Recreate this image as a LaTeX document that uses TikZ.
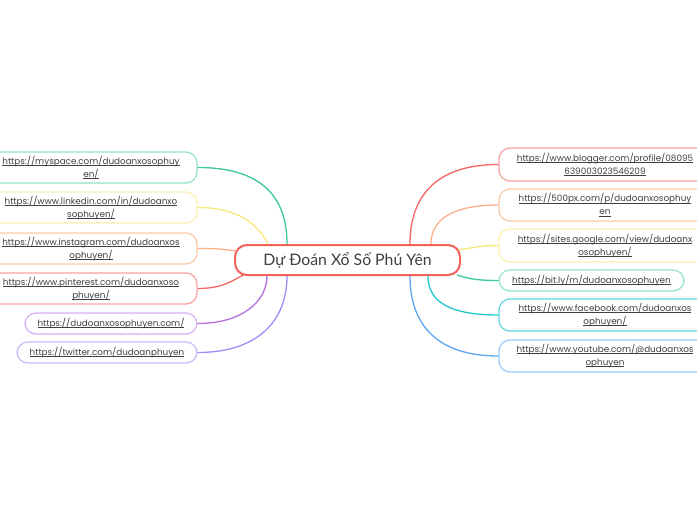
\documentclass[tikz,border=0pt]{standalone}
\usepackage{fontspec}
\setmainfont{Poppins}
\newfontfamily\vnfont{Lato}
\usetikzlibrary{calc}
\definecolor{txt}{HTML}{404040}
\definecolor{lgreen}{HTML}{3CC99A}\definecolor{bgreen}{HTML}{93E3C6}
\definecolor{lyellow}{HTML}{F8E87C}\definecolor{byellow}{HTML}{FBF0AE}
\definecolor{lorange}{HTML}{FDB089}\definecolor{borange}{HTML}{FDCAA8}
\definecolor{lred}{HTML}{F46464}\definecolor{bred}{HTML}{F7A0A0}
\definecolor{lpurple}{HTML}{B46FE0}\definecolor{bpurple}{HTML}{D8B0F1}
\definecolor{lviolet}{HTML}{9A90F8}\definecolor{bviolet}{HTML}{C2BCFA}
\definecolor{lcyan}{HTML}{1FC8D0}\definecolor{bcyan}{HTML}{5CD8DD}
\definecolor{lblue}{HTML}{5AA8F5}\definecolor{bblue}{HTML}{9CCDF8}
\definecolor{cred}{HTML}{F2605A}
\newcommand\lnk[1]{\setbox0\hbox{#1}\leavevmode\rlap{\rule[-1.4pt]{\wd0}{0.5pt}}\box0}
\tikzset{
  leaf/.style={rectangle, rounded corners=11pt, line width=1.2pt, fill=white,
    text=txt, font=\fontsize{8.8}{13}\selectfont, align=center, inner sep=0pt},
  conn/.style={line width=1.3pt},
}
\begin{document}
\begin{tikzpicture}[x=1pt,y=-1pt]
\useasboundingbox (0,0) rectangle (697,520);
\fill[white] (0,0) rectangle (697,520);
% central
\node[draw=cred, line width=2pt, rounded corners=12pt, fill=white, minimum width=225pt, minimum height=30pt, inner sep=0pt, text=txt, font=\vnfont\fontsize{15.8}{18}\selectfont] (c) at (347.5,260) {Dự Đoán Xổ Số Phú Yên};
% left
\node[leaf, draw=bgreen, minimum width=212pt, minimum height=31pt] (l1) at (91,167.5) {\lnk{https://myspace.com/dudoanxosophuy}\\\lnk{en/}};
\node[leaf, draw=byellow, minimum width=212pt, minimum height=31pt] (l2) at (91,207.5) {\lnk{https://www.linkedin.com/in/dudoanxo}\\\lnk{sophuyen/}};
\node[leaf, draw=borange, minimum width=212pt, minimum height=31pt] (l3) at (91,248.5) {\lnk{https://www.instagram.com/dudoanxos}\\\lnk{ophuyen/}};
\node[leaf, draw=bred, minimum width=212pt, minimum height=31pt] (l4) at (91,288.5) {\lnk{https://www.pinterest.com/dudoanxoso}\\\lnk{phuyen/}};
\node[leaf, draw=bpurple, minimum width=172pt, minimum height=21pt] (l5) at (111,323.5) {\lnk{https://dudoanxosophuyen.com/}};
\node[leaf, draw=bviolet, minimum width=180pt, minimum height=21pt] (l6) at (107,352.5) {\lnk{https://twitter.com/dudoanphuyen}};
% right
\node[leaf, draw=bred, minimum width=212pt, minimum height=33pt] (r1) at (605,164.5) {\lnk{https://www.blogger.com/profile/08095}\\\lnk{639003023546209}};
\node[leaf, draw=borange, minimum width=212pt, minimum height=32pt] (r2) at (605,205) {\lnk{https://500px.com/p/dudoanxosophuy}\\\lnk{en}};
\node[leaf, draw=byellow, minimum width=212pt, minimum height=33pt] (r3) at (605,245.5) {\lnk{https://sites.google.com/view/dudoanx}\\\lnk{osophuyen/}};
\node[leaf, draw=bgreen, minimum width=185pt, minimum height=21pt] (r4) at (591.5,280.5) {\lnk{https://bit.ly/m/dudoanxosophuyen}};
\node[leaf, draw=bcyan, minimum width=212pt, minimum height=32pt] (r5) at (605,315) {\lnk{https://www.facebook.com/dudoanxos}\\\lnk{ophuyen/}};
\node[leaf, draw=bblue, minimum width=212pt, minimum height=32pt] (r6) at (605,356) {\lnk{https://www.youtube.com/@dudoanxos}\\\lnk{ophuyen}};
% connectors left
\draw[conn, lgreen] (l1.east) .. controls +(55,0) and +(0,-55) .. ($(c.north)+(-60.5,0)$);
\draw[conn, lyellow] (l2.east) .. controls +(40,0) and +(-10,-20) .. ($(c.north)+(-79.5,0)$);
\draw[conn, lorange] (l3.east) .. controls +(20,0) and +(-15,-2) .. ($(c.west)+(2.5,-9)$);
\draw[conn, lred] (l4.east) .. controls +(25,0) and +(-12,6) .. ($(c.south)+(-104,-1)$);
\draw[conn, lpurple] (l5.east) .. controls +(45,0) and +(0,25) .. ($(c.south)+(-80.5,0)$);
\draw[conn, lviolet] (l6.east) .. controls +(60,0) and +(0,45) .. ($(c.south)+(-60.5,0)$);
% connectors right
\draw[conn, lred] (r1.west) .. controls +(-60,0) and +(0,-50) .. ($(c.north)+(62.5,0)$);
\draw[conn, lorange] (r2.west) .. controls +(-45,0) and +(0,-25) .. ($(c.north)+(83.5,0)$);
\draw[conn, lyellow] (r3.west) .. controls +(-20,0) and +(15,-2) .. ($(c.east)+(-2.5,-10)$);
\draw[conn, lgreen] (r4.west) .. controls +(-25,0) and +(10,3) .. ($(c.south)+(109.5,-1)$);
\draw[conn, lcyan] (r5.west) .. controls +(-50,0) and +(0,25) .. ($(c.south)+(80.5,0)$);
\draw[conn, lblue] (r6.west) .. controls +(-60,0) and +(0,50) .. ($(c.south)+(62.5,0)$);
\end{tikzpicture}
\end{document}
